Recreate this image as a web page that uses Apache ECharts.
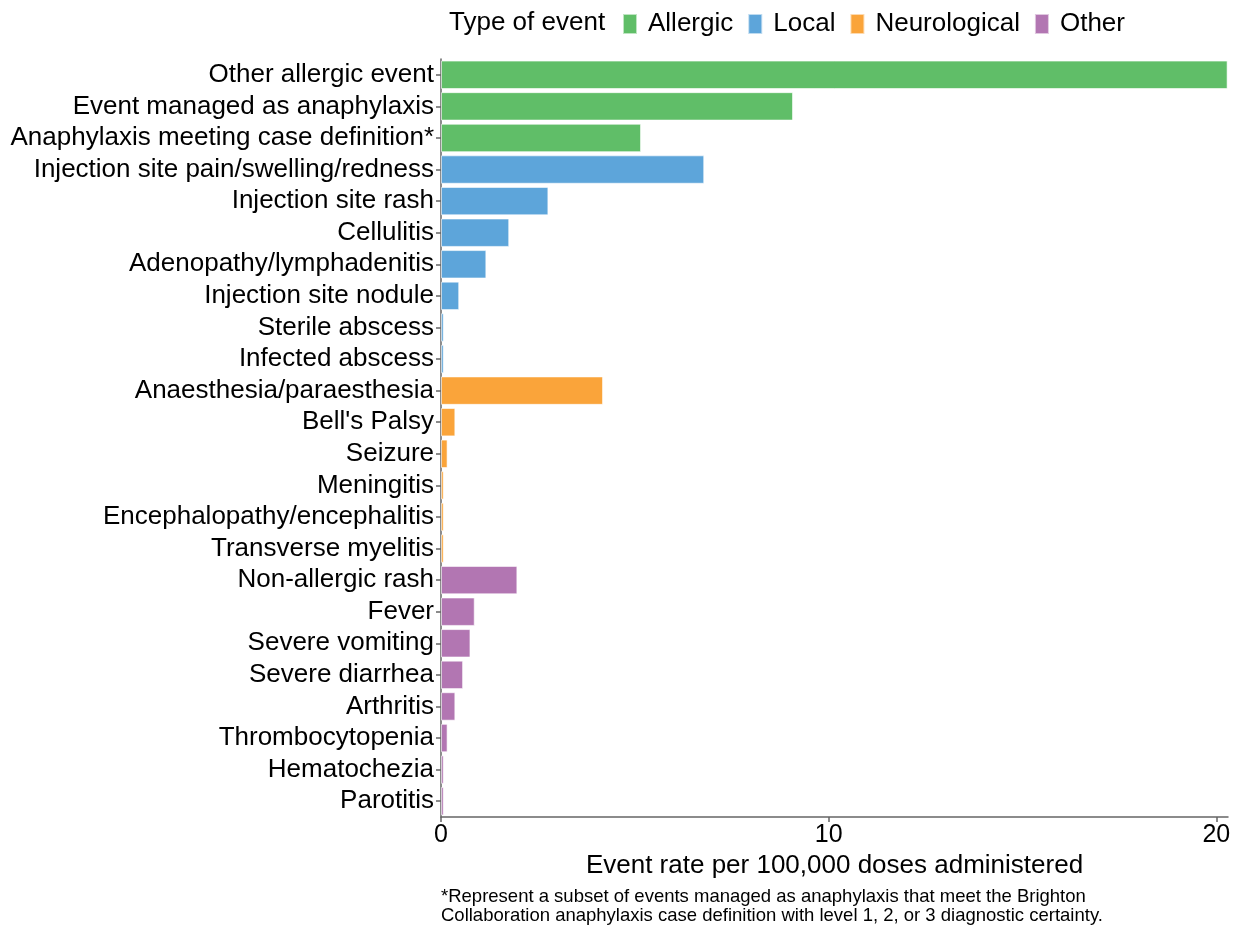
<!DOCTYPE html>
<html>
<head>
<meta charset="utf-8">
<script src="https://cdn.jsdelivr.net/npm/echarts@6/dist/echarts.min.js"></script>
<style>
    html, body { margin: 0; padding: 0; background: #fff; }
    #chart { width: 1239px; height: 928px; }
</style>
</head>
<body>
<div id="chart"></div>
<script>
var categories = [
    'Other allergic event', 'Event managed as anaphylaxis', 'Anaphylaxis meeting case definition*',
    'Injection site pain/swelling/redness', 'Injection site rash', 'Cellulitis',
    'Adenopathy/lymphadenitis', 'Injection site nodule', 'Sterile abscess', 'Infected abscess',
    'Anaesthesia/paraesthesia', "Bell's Palsy", 'Seizure', 'Meningitis',
    'Encephalopathy/encephalitis', 'Transverse myelitis',
    'Non-allergic rash', 'Fever', 'Severe vomiting', 'Severe diarrhea', 'Arthritis',
    'Thrombocytopenia', 'Hematochezia', 'Parotitis'
];
var rates = [
    20.29, 9.08, 5.16,
    6.79, 2.77, 1.76, 1.17, 0.47, 0.07, 0.07,
    4.18, 0.37, 0.17, 0.07, 0.07, 0.07,
    1.97, 0.87, 0.76, 0.57, 0.37, 0.17, 0.07, 0.07
];
var eventTypes = [
    'Allergic', 'Allergic', 'Allergic',
    'Local', 'Local', 'Local', 'Local', 'Local', 'Local', 'Local',
    'Neurological', 'Neurological', 'Neurological', 'Neurological', 'Neurological', 'Neurological',
    'Other', 'Other', 'Other', 'Other', 'Other', 'Other', 'Other', 'Other'
];
var typeNames = ['Allergic', 'Local', 'Neurological', 'Other'];
var typeColors = ['#60BE68', '#5DA5DA', '#FAA43A', '#B276B2'];
var xTicks = [0, 10, 20];

var font = 'Liberation Sans, Arial, sans-serif';
var chart = echarts.init(document.getElementById('chart'), null, {renderer: 'canvas'});

var series = typeNames.map(function (t, i) {
    return {
        name: t,
        type: 'bar',
        barGap: '-100%',
        barCategoryGap: '10%',
        itemStyle: {
            color: typeColors[i],
            borderColor: 'rgba(255,255,255,0.6)',
            borderWidth: 1
        },
        data: rates.map(function (v, k) {
            return eventTypes[k] === t ? v : null;
        })
    };
});

var option = {
    animation: false,
    textStyle: {fontFamily: font},
    grid: {left: 441, right: 11, top: 59, bottom: 111},
    legend: {
        data: typeNames,
        left: 622,
        top: 11,
        padding: 0,
        itemWidth: 14,
        itemHeight: 20,
        itemGap: 14,
        icon: 'rect',
        textStyle: {fontSize: 26, color: '#000', fontFamily: font, padding: [0, 0, 0, 6]}
    },
    graphic: [
        {
            type: 'text',
            left: 449,
            top: 10,
            style: {text: 'Type of event', fontSize: 26, fill: '#000', fontFamily: font}
        },
        {
            type: 'text',
            left: 441,
            top: 887,
            style: {
                text: '*Represent a subset of events managed as anaphylaxis that meet the Brighton\nCollaboration anaphylaxis case definition with level 1, 2, or 3 diagnostic certainty.',
                fontSize: 18.5,
                lineHeight: 19,
                fill: '#000',
                fontFamily: font
            }
        }
    ],
    xAxis: {
        type: 'value',
        min: 0,
        max: 20.3,
        interval: 10,
        name: 'Event rate per 100,000 doses administered',
        nameLocation: 'middle',
        nameGap: 34,
        nameTextStyle: {fontSize: 26, color: '#000', fontFamily: font},
        splitLine: {show: false},
        axisLine: {show: true, lineStyle: {color: '#666', width: 1.5}},
        axisTick: {show: true, length: 5, lineStyle: {color: '#666', width: 1.5}, customValues: xTicks},
        axisLabel: {fontSize: 25, color: '#000', margin: 6, fontFamily: font, customValues: xTicks}
    },
    yAxis: {
        type: 'category',
        inverse: true,
        data: categories,
        axisLine: {show: true, lineStyle: {color: '#666', width: 1.5}},
        axisTick: {show: true, length: 5, interval: 0, alignWithLabel: true, lineStyle: {color: '#666', width: 1.5}},
        axisLabel: {fontSize: 26, color: '#000', margin: 7, interval: 0, fontFamily: font}
    },
    series: series
};

chart.setOption(option);
</script>
</body>
</html>
